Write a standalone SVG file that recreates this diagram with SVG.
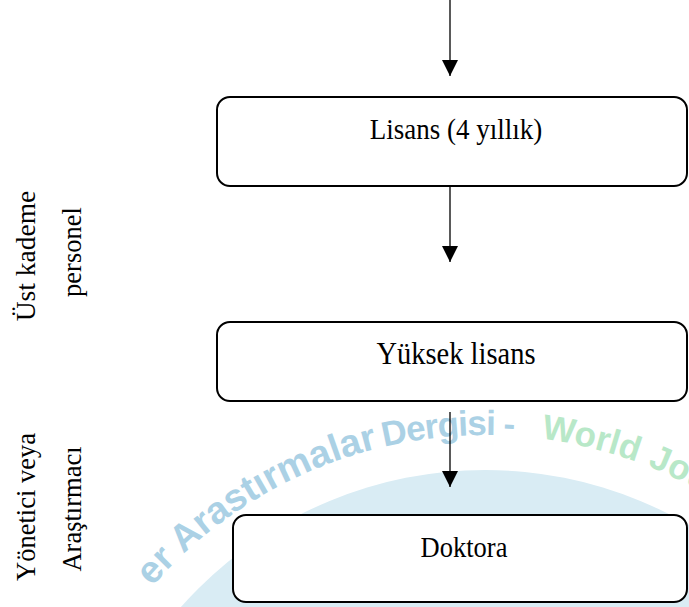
<svg xmlns="http://www.w3.org/2000/svg" width="689" height="607" viewBox="0 0 689 607">
  <style>
    .box { fill: #ffffff; stroke: #000000; stroke-width: 2; }
    .lbl { font-family: "Liberation Serif", "Times New Roman", serif; font-size: 26.5px; fill: #000000; text-anchor: middle; }
    .conn { stroke: #000000; stroke-width: 1.3; fill: none; }
    .wm { font-family: "Liberation Sans", Arial, sans-serif; font-weight: bold; font-size: 35px; }
    .wmb { fill: #abd1e5; }
    .wmg { fill: #b8e8c8; }
  </style>
  <defs>
    <marker id="arrow" viewBox="0 0 16 18" refX="16" refY="8" markerWidth="16" markerHeight="18" markerUnits="userSpaceOnUse" orient="auto">
      <path d="M0,0 L16,8 L0,16 Z" fill="#000000"/>
    </marker>
    <path id="wmArc" d="M 100 661 A 441 441 0 0 1 870 661"/>
  </defs>

  <g id="watermark">
    <circle cx="485" cy="876" r="406" fill="#d9ecf4"/>
    <text class="wm wmb" text-anchor="end" style="font-size:38px"><textPath href="#wmArc" startOffset="360">er Arastırmalar</textPath></text>
    <text class="wm wmb" letter-spacing="-1"><textPath href="#wmArc" startOffset="366">Dergisi</textPath></text>
    <text class="wm wmb"><textPath href="#wmArc" startOffset="486">-</textPath></text>
    <text class="wm wmg"><textPath href="#wmArc" startOffset="524">World</textPath></text>
    <text class="wm wmg"><textPath href="#wmArc" startOffset="634">Jou</textPath></text>
  </g>

  <g id="labels">
    <text class="lbl" transform="translate(35,256) rotate(-90)" style="font-size:27.5px">Üst kademe</text>
    <text class="lbl" transform="translate(81,252) rotate(-90)">personel</text>
    <text class="lbl" transform="translate(35,507) rotate(-90)">Yönetici veya</text>
    <text class="lbl" transform="translate(81,509) rotate(-90)">Araştırmacı</text>
  </g>

  <g id="connectors">
    <line class="conn" x1="450" y1="0" x2="450" y2="76" marker-end="url(#arrow)"/>
    <line class="conn" x1="450" y1="186" x2="450" y2="262" marker-end="url(#arrow)"/>
    <line class="conn" x1="450" y1="412" x2="450" y2="487" marker-end="url(#arrow)"/>
  </g>

  <g id="node-lisans">
    <rect class="box" x="217" y="97" width="470" height="89" rx="13"/>
    <text class="lbl" transform="translate(456,139) scale(1,1.1)" style="font-size:27px">Lisans (4 yıllık)</text>
  </g>

  <g id="node-yuksek-lisans">
    <rect class="box" x="217" y="322" width="470" height="79" rx="13"/>
    <text class="lbl" transform="translate(456,364) scale(1,1.1)" style="font-size:28.5px">Yüksek lisans</text>
  </g>

  <g id="node-doktora">
    <rect class="box" x="233" y="515" width="454" height="87" rx="13"/>
    <text class="lbl" transform="translate(464,557) scale(1,1.1)">Doktora</text>
  </g>
</svg>
